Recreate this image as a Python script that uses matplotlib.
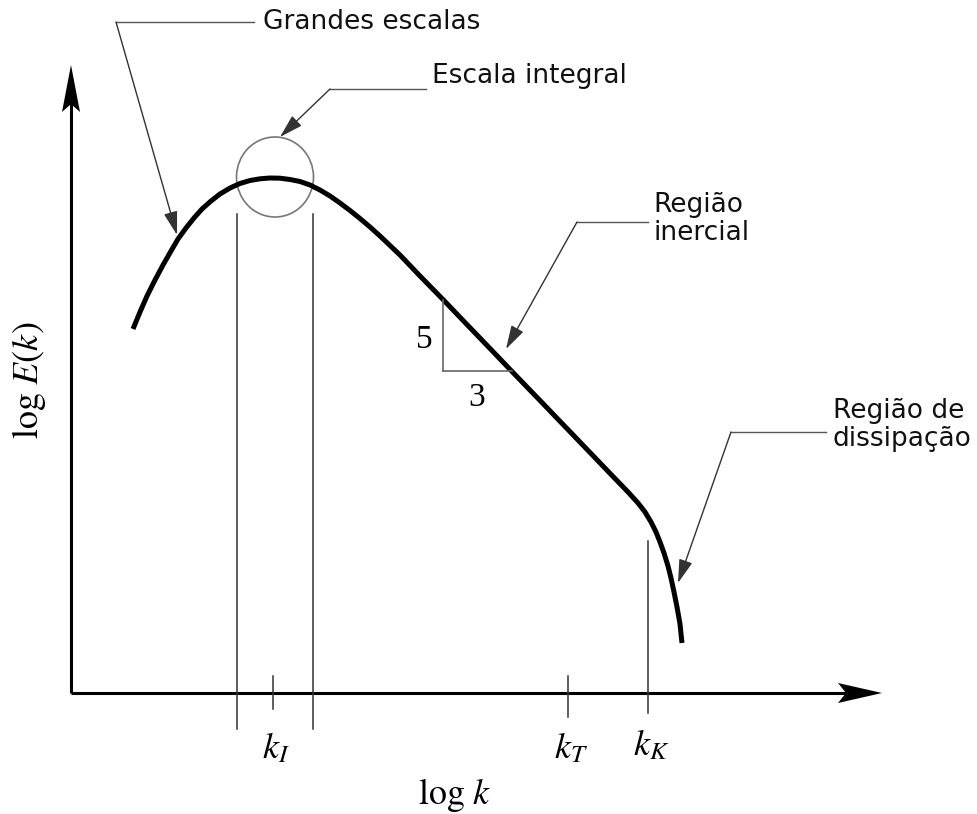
import matplotlib
matplotlib.use("Agg")
import matplotlib.pyplot as plt
from matplotlib.patches import Ellipse, Polygon

plt.rcParams['mathtext.fontset'] = 'stix'
plt.rcParams['font.family'] = ['DejaVu Sans']

# energy spectrum curve, schematic units (log k, log E)
log_k = [62, 69, 76, 84, 92, 100, 107, 115, 123, 131, 140, 149, 159, 169, 179,
         189, 199, 209, 219, 229, 239, 249, 259, 269, 279, 289, 299, 309, 319,
         329, 349, 372, 394, 419, 441, 469, 494, 519, 542, 557, 567, 574, 580,
         585, 589, 593, 597, 600, 603, 606, 609, 611]
log_E = [364, 381, 397, 413, 428, 442, 454, 465, 475, 484, 492, 499, 505,
         509.5, 512.5, 514.2, 515, 514.8, 513.5, 511.5, 508, 503, 497, 490,
         482.5, 474.5, 466, 457, 447.5, 438, 417, 393.5, 370.5, 344.5, 321.5,
         292.5, 266.5, 240.5, 216.5, 201, 190, 181, 171, 161, 151, 140, 127,
         115, 101, 86, 69, 50]

# characteristic wavenumbers on the log k axis
k_marks = [202, 497, 577]
k_names = [r'$k_I$', r'$k_T$', r'$k_K$']
band_edges = [166, 242]

# -5/3 slope triangle (rise, run)
slope_rise = [393, 322]
slope_run = [372, 441]

fig = plt.figure(figsize=(9.77, 8.14), dpi=100)
ax = fig.add_axes([0, 0, 1, 1])
ax.set_xlim(-71, 906)
ax.set_ylim(-121, 693)
ax.axis('off')

axis_end_x = 811
axis_end_y = 628


def axis_arrow(tip, along, length, half, notch):
    # stealth-style arrowhead pointing along the axis
    tx, ty = tip
    dx, dy = along
    px, py = -dy, dx
    pts = [(tx, ty),
           (tx - dx * length + px * half, ty - dy * length + py * half),
           (tx - dx * notch, ty - dy * notch),
           (tx - dx * length - px * half, ty - dy * length - py * half)]
    ax.add_patch(Polygon(pts, closed=True, color='black', lw=0))


ax.plot([0, axis_end_x - 30], [0, 0], color='black', lw=2.2, solid_capstyle='butt')
ax.plot([0, 0], [0, axis_end_y - 30], color='black', lw=2.2, solid_capstyle='butt')
axis_arrow((axis_end_x, 0), (1, 0), 44, 10, 36)
axis_arrow((0, axis_end_y), (0, 1), 47, 9, 39)

# integral-scale band and tick marks
for xb in band_edges:
    ax.plot([xb, xb], [479, -36], color='#333333', lw=1.1)
ax.plot([k_marks[0]] * 2, [17, -16], color='#333333', lw=1.1)
ax.plot([k_marks[1]] * 2, [17, -24], color='#333333', lw=1.1)
ax.plot([k_marks[2]] * 2, [152, -20], color='#333333', lw=1.1)

ax.add_patch(Ellipse((204, 516), 77, 80, fill=False, ec='#777777', lw=1.2))

ax.plot(log_k, log_E, color='black', lw=3.6, solid_capstyle='butt',
        solid_joinstyle='round')

ax.plot([slope_run[0], slope_run[0]], slope_rise, color='#666666', lw=1.2)
ax.plot(slope_run, [slope_rise[1], slope_rise[1]], color='#666666', lw=1.2)
ax.text(353, 353, '5', fontsize=24, family='Liberation Serif',
        ha='center', va='center')
ax.text(406, 295, '3', fontsize=24, family='Liberation Serif',
        ha='center', va='center')

for xk, name, dy in zip(k_marks, k_names, [0, 0, 3]):
    ax.text(xk + 3, -55 + dy, name, fontsize=26, ha='center', va='center')
ax.text(384, -102, r'$\log\,k$', fontsize=26, ha='center', va='center')
ax.text(-42, 313, r'$\log\,E(k)$', fontsize=26, ha='center', va='center',
        rotation=90)


def leader(label, text_xy, corner, tip, line_end, **kw):
    ax.plot([corner[0], line_end], [corner[1], corner[1]], color='#555555', lw=1)
    ax.annotate('', xy=tip, xytext=corner,
                arrowprops=dict(arrowstyle='-|>,head_length=1.45,head_width=0.42',
                                color='#333333', lw=1, shrinkA=0, shrinkB=0,
                                mutation_scale=10))
    ax.text(text_xy[0], text_xy[1], label, fontsize=19, color='#111111',
            ha='left', va='center', **kw)


leader('Grandes escalas', (192, 671), (45, 671), (106, 458), 183)
leader('Escala integral', (361, 617), (259, 604), (209, 556), 355)
leader('Região\ninercial', (582, 474), (506, 471), (435, 344), 577,
       linespacing=1.15)
leader('Região de\ndissipação', (762, 268), (660, 261), (607, 110), 755,
       linespacing=1.15)

fig.savefig('out.png', dpi=100)
